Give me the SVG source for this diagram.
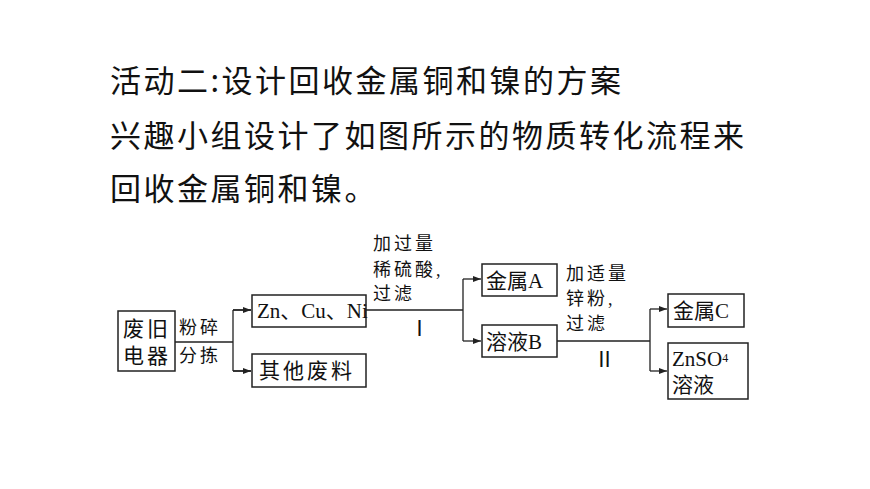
<svg xmlns="http://www.w3.org/2000/svg" width="870" height="489" viewBox="0 0 870 489">
<style>
.t{font-family:"Noto Sans CJK SC",sans-serif;font-size:31px;letter-spacing:2.5px;fill:#111}
.b{font-family:"Liberation Serif","Noto Sans CJK SC",serif;font-size:21px;fill:#111}
.l{font-family:"Liberation Serif","Noto Sans CJK SC",serif;font-size:18px;letter-spacing:3px;fill:#111}
rect{fill:#fff;stroke:#222;stroke-width:1.5}
.c path{fill:none;stroke:#222;stroke-width:1.3}
</style>
<defs><marker id="a" markerWidth="8" markerHeight="6" refX="8" refY="3" orient="auto" markerUnits="userSpaceOnUse"><path d="M0,0L8,3L0,6z" fill="#222"/></marker></defs>
<rect width="870" height="489" style="stroke:none"/>
<text class="t" x="110" y="92">活动二:设计回收金属铜和镍的方案</text>
<text class="t" x="110" y="147">兴趣小组设计了如图所示的物质转化流程来</text>
<text class="t" x="110" y="200">回收金属铜和镍。</text>
<g class="c">
<path d="M175,342H233M233,310V371M233,310H251M233,371H251" />
<path d="M233,310H251" marker-end="url(#a)"/><path d="M233,371H251" marker-end="url(#a)"/>
<path d="M366,310H463M463,279V341"/>
<path d="M463,279H481" marker-end="url(#a)"/><path d="M463,341H481" marker-end="url(#a)"/>
<path d="M557,341H650M650,309V371"/>
<path d="M650,309H667" marker-end="url(#a)"/><path d="M650,371H667" marker-end="url(#a)"/>
</g>
<g id="n1"><rect x="118" y="311" width="57" height="60"/><text class="b" x="123" y="336" letter-spacing="3">废旧</text><text class="b" x="123" y="363" letter-spacing="3">电器</text></g>
<g id="l1"><text class="l" x="179" y="334">粉碎</text><text class="l" x="179" y="362">分拣</text></g>
<g id="n2"><rect x="252" y="295" width="114" height="32"/><text class="b" x="257" y="318">Zn、Cu、Ni</text></g>
<g id="n3"><rect x="252" y="354" width="114" height="33"/><text class="b" x="259" y="378" letter-spacing="3">其他废料</text></g>
<g id="l2"><text class="l" x="373" y="250">加过量</text><text class="l" x="373" y="276">稀硫酸,</text><text class="l" x="373" y="300">过滤</text><text class="b" x="409" y="336">Ⅰ</text></g>
<g id="n4"><rect x="482" y="264" width="75" height="32"/><text class="b" x="486" y="288">金属A</text></g>
<g id="n5"><rect x="482" y="325" width="75" height="32"/><text class="b" x="486" y="349">溶液B</text></g>
<g id="l3"><text class="l" x="566" y="280">加适量</text><text class="l" x="566" y="305">锌粉,</text><text class="l" x="566" y="330">过滤</text><text class="b" x="594" y="367">Ⅱ</text></g>
<g id="n6"><rect x="668" y="294" width="76" height="33"/><text class="b" x="673" y="318">金属C</text></g>
<g id="n7"><rect x="668" y="343" width="80" height="56"/><text class="b" x="672" y="366">ZnSO<tspan font-size="12" dy="-4">4</tspan></text><text class="b" x="672" y="392">溶液</text></g>
</svg>
